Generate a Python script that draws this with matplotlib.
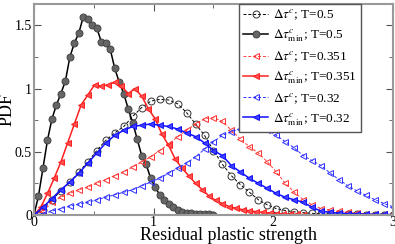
import matplotlib
matplotlib.use("Agg")
import matplotlib.pyplot as plt
from matplotlib.ticker import MultipleLocator

plt.rcParams['font.family'] = ['Liberation Serif', 'DejaVu Serif']
plt.rcParams['mathtext.fontset'] = 'stix'

# ---- data ----
x_bf = [0.0, 0.0375, 0.075, 0.1125, 0.15, 0.1875, 0.225, 0.2625, 0.3, 0.3375, 0.375, 0.4125, 0.45,
        0.4875, 0.525, 0.5625, 0.6, 0.6375, 0.675, 0.7125, 0.75, 0.7875, 0.825, 0.8625, 0.9, 0.9375,
        0.975, 1.0125, 1.05, 1.0875, 1.125, 1.1625, 1.2, 1.2375, 1.275, 1.3125, 1.35, 1.3875, 1.425,
        1.4625, 1.5]
y_bf = [0.0, 0.15, 0.37, 0.59, 0.76, 0.87, 0.96, 1.06, 1.25, 1.36, 1.44, 1.57, 1.55,
        1.50, 1.48, 1.37, 1.36, 1.31, 1.16, 1.05, 0.96, 0.84, 0.73, 0.60, 0.47, 0.40,
        0.29, 0.22, 0.16, 0.12, 0.085, 0.06, 0.04, 0.027, 0.018, 0.012, 0.009, 0.007, 0.005,
        0.004, 0.003]

x_rf = [0.0, 0.05625, 0.1125, 0.16875, 0.225, 0.28125, 0.3375, 0.39375, 0.45, 0.50625, 0.5625,
        0.61875, 0.675, 0.73125, 0.7875, 0.84375, 0.9, 0.95625, 1.0125, 1.06875, 1.125, 1.18125,
        1.2375, 1.29375, 1.35, 1.40625, 1.4625, 1.51875, 1.575, 1.63125, 1.6875, 1.74375, 1.8,
        1.85625, 1.9125, 1.96875, 2.025, 2.08125, 2.1375, 2.19375, 2.25]
y_rf = [0.0, 0.06, 0.17, 0.29, 0.42, 0.57, 0.72, 0.87, 0.95, 1.03, 1.02,
        1.03, 1.05, 1.02, 0.96, 1.00, 0.94, 0.84, 0.76, 0.64, 0.55, 0.44,
        0.37, 0.31, 0.25, 0.20, 0.15, 0.115, 0.09, 0.066, 0.053, 0.042, 0.033,
        0.026, 0.02, 0.015, 0.011, 0.008, 0.006, 0.004, 0.003]

x_open = [0.0, 0.075, 0.15, 0.225, 0.3, 0.375, 0.45, 0.525, 0.6, 0.675, 0.75, 0.825, 0.9, 0.975,
          1.05, 1.125, 1.2, 1.275, 1.35, 1.425, 1.5, 1.575, 1.65, 1.725, 1.8, 1.875, 1.95, 2.025,
          2.1, 2.175, 2.25, 2.325, 2.4, 2.475, 2.55, 2.625, 2.7, 2.775, 2.85, 2.925, 3.0]

y_bo = [0.0, 0.04, 0.12, 0.19, 0.26, 0.34, 0.42, 0.51, 0.59, 0.65, 0.70, 0.78, 0.85, 0.90,
        0.915, 0.91, 0.88, 0.81, 0.72, 0.63, 0.51, 0.40, 0.31, 0.24, 0.18, 0.12, 0.08, 0.05,
        0.035, 0.025, 0.018, 0.013, 0.01, 0.008, 0.006, 0.005, 0.004, 0.003, 0.003, 0.002, 0.002]

y_blf = [0.0, 0.06, 0.13, 0.20, 0.26, 0.33, 0.41, 0.49, 0.57, 0.63, 0.67, 0.70, 0.71, 0.72,
         0.71, 0.70, 0.68, 0.65, 0.62, 0.57, 0.51, 0.47, 0.39, 0.34, 0.29, 0.25, 0.21, 0.17,
         0.14, 0.12, 0.10, 0.06, 0.03, 0.02, 0.015, 0.01, 0.008, 0.006, 0.005, 0.004, 0.003]

y_ro = [0.0, 0.03, 0.10, 0.14, 0.17, 0.20, 0.22, 0.25, 0.28, 0.31, 0.34, 0.38, 0.42, 0.46,
        0.51, 0.56, 0.62, 0.67, 0.72, 0.76, 0.77, 0.74, 0.67, 0.60, 0.54, 0.49, 0.42, 0.34,
        0.25, 0.18, 0.12, 0.08, 0.05, 0.04, 0.03, 0.02, 0.015, 0.01, 0.008, 0.006, 0.005]

y_blo = [0.0, 0.01, 0.03, 0.05, 0.07, 0.085, 0.10, 0.12, 0.14, 0.16, 0.18, 0.20, 0.23, 0.26,
         0.29, 0.33, 0.37, 0.41, 0.46, 0.52, 0.58, 0.63, 0.66, 0.68, 0.69, 0.69, 0.67, 0.63,
         0.58, 0.53, 0.47, 0.43, 0.39, 0.33, 0.28, 0.23, 0.19, 0.155, 0.12, 0.09, 0.065]

labels = [r'$\Delta\tau^c$; T=0.5', r'$\Delta\tau^c_{\mathrm{min}}$; T=0.5',
          r'$\Delta\tau^c$; T=0.351', r'$\Delta\tau^c_{\mathrm{min}}$; T=0.351',
          r'$\Delta\tau^c$; T=0.32', r'$\Delta\tau^c_{\mathrm{min}}$; T=0.32']

fig = plt.figure(figsize=(3.95, 2.44), dpi=100)
ax = fig.add_axes([0.086, 0.119, 0.909, 0.865])

ms = 5.0
ax.plot(x_open, y_bo, color='black', ls=(0, (3, 2)), lw=0.7, marker='o', ms=ms,
        mfc='none', mec='#333333', mew=0.7, label=labels[0])
ax.plot(x_bf, y_bf, color='black', ls='-', lw=1.1, marker='o', ms=ms,
        mfc='#666666', mec='#444444', mew=0.7, label=labels[1])
ax.plot(x_open, y_ro, color='#ff4040', ls=(0, (3, 2)), lw=0.7, marker='<', ms=ms,
        mfc='none', mec='#ff3030', mew=0.7, label=labels[2])
ax.plot(x_rf, y_rf, color='#ff2020', ls='-', lw=1.1, marker='<', ms=ms,
        mfc='#ff5050', mec='#ff2020', mew=0.7, label=labels[3])
ax.plot(x_open, y_blo, color='#3030ff', ls=(0, (3, 2)), lw=0.7, marker='<', ms=ms,
        mfc='none', mec='#3030ff', mew=0.7, label=labels[4])
ax.plot(x_open, y_blf, color='#1010ff', ls='-', lw=1.1, marker='<', ms=ms,
        mfc='#4040ff', mec='#1010ff', mew=0.7, label=labels[5])

ax.set_xlim(0, 3)
ax.set_ylim(0, 1.67)
ax.xaxis.set_minor_locator(MultipleLocator(0.5))
ax.yaxis.set_minor_locator(MultipleLocator(0.25))
ax.set_xticks([0, 1, 2, 3])
ax.set_xticklabels(['0', '1', '2', '3'])
ax.set_yticks([0, 0.5, 1, 1.5])
ax.set_yticklabels(['0', '0.5', '1', '1.5'])
ax.tick_params(which='both', direction='in', top=True, right=True, labelsize=10,
               color='#555555', pad=1.5)
ax.tick_params(axis='x', pad=0.5)
ax.tick_params(which='major', length=5)
ax.tick_params(which='minor', length=3)
for s in ax.spines.values():
    s.set_color('#999999')
    s.set_linewidth(1.5)

ax.set_xlabel('Residual plastic strength', fontsize=13)
ax.xaxis.set_label_coords(0.543, -0.058)
ax.set_ylabel('PDF', fontsize=13)
ax.yaxis.set_label_coords(-0.051, 0.5)

leg = ax.legend(loc='upper right', bbox_to_anchor=(0.911, 1.0), borderaxespad=0,
                fontsize=9.5, frameon=True, fancybox=False, framealpha=1,
                edgecolor='#555555', handlelength=1.9, handletextpad=0.4,
                labelspacing=0.4, borderpad=0.3)
leg.get_frame().set_linewidth(1.0)

fig.savefig('out.png', dpi=100)
